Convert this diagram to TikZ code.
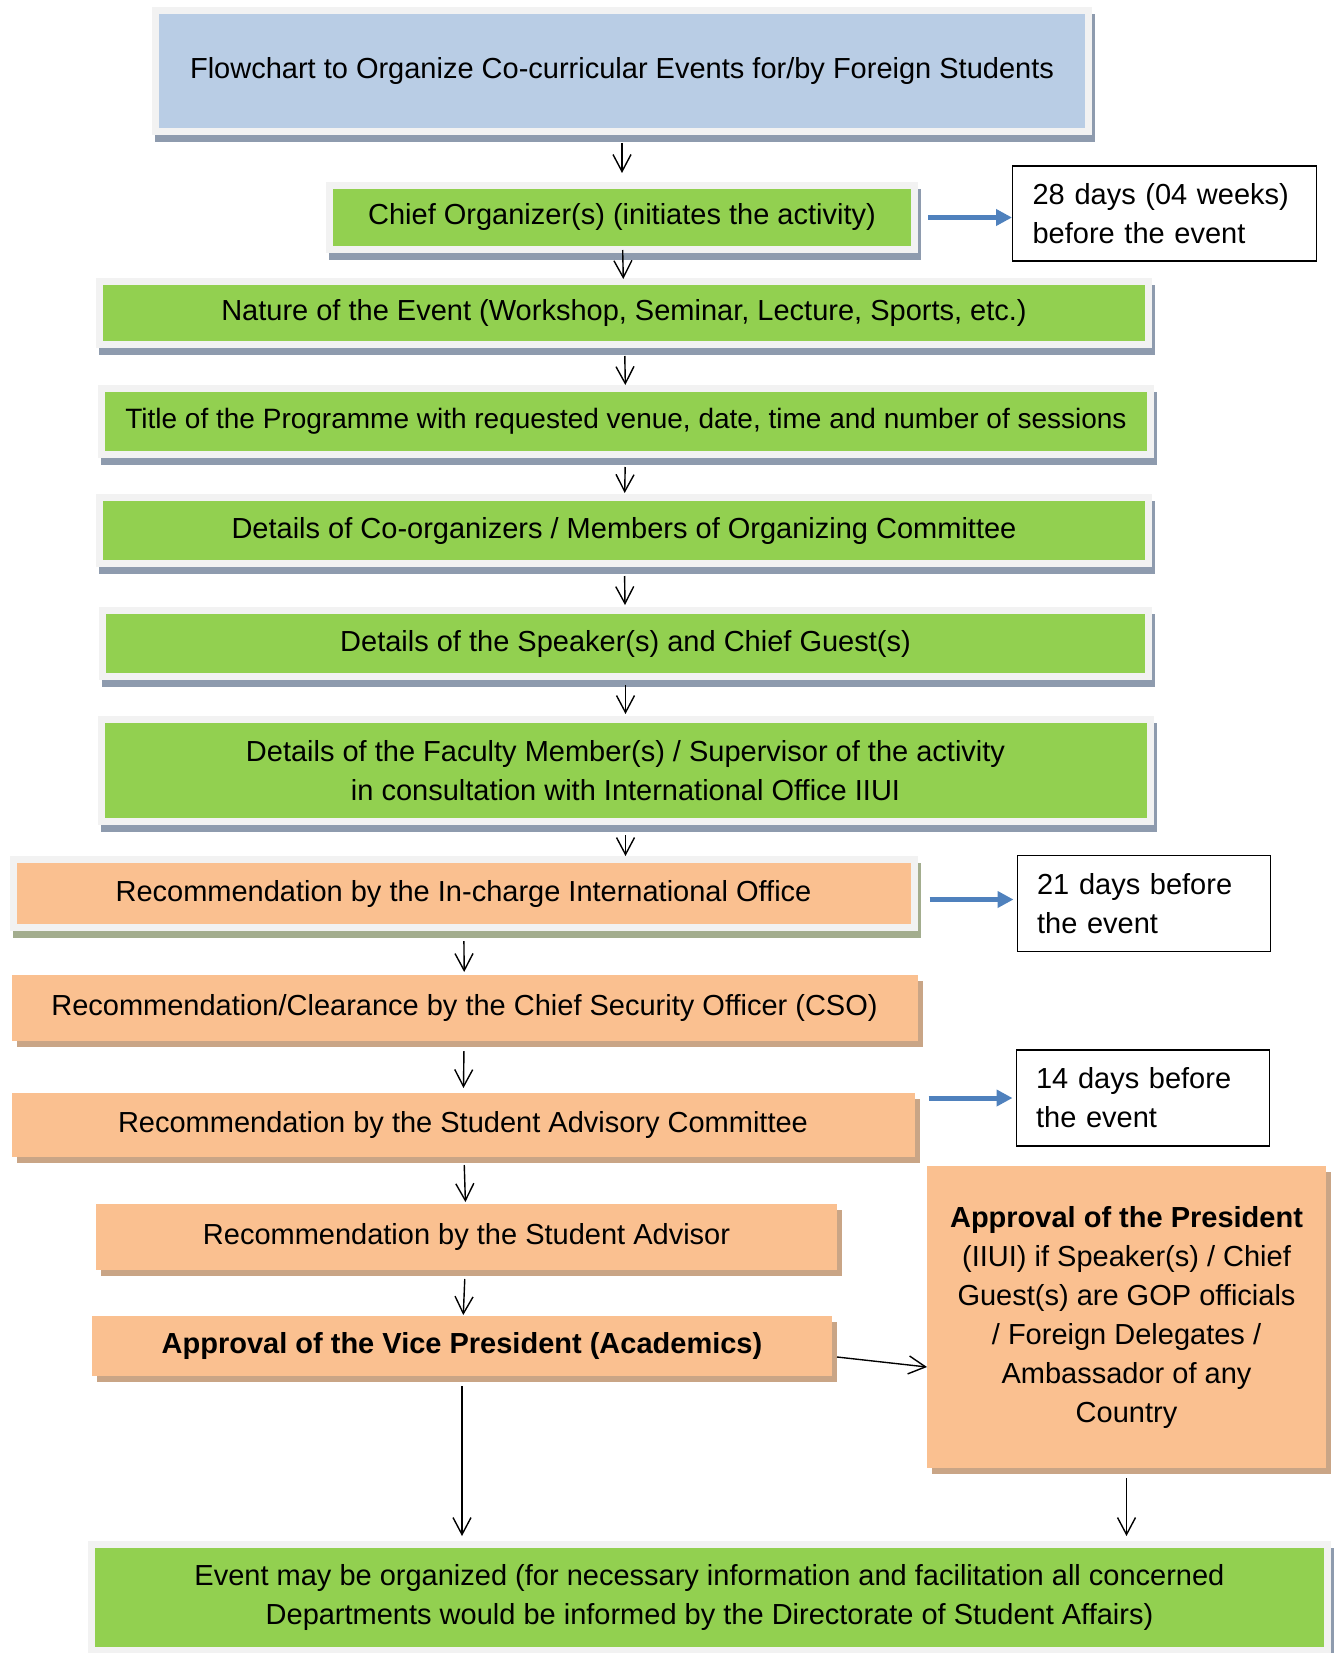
\documentclass[tikz,border=0pt]{standalone}
\usepackage{fontspec}
\setmainfont{Liberation Sans}
\usepackage{tikz}
\usetikzlibrary{arrows.meta,positioning}

\definecolor{titleblue}{HTML}{B9CDE5}
\definecolor{boxgreen}{HTML}{92D050}
\definecolor{boxorange}{HTML}{FAC090}
\definecolor{framegray}{HTML}{F2F2F2}
\definecolor{shadeblue}{HTML}{8E9BAE}
\definecolor{shadeolive}{HTML}{A3AD8E}
\definecolor{shadetan}{HTML}{C9A586}
\definecolor{arrowblue}{HTML}{4F81BD}

\begin{document}
\begin{tikzpicture}[x=1pt,y=-1pt,
  font=\fontsize{29}{39}\selectfont,
  stepbox/.style={fill=#1,align=center,inner sep=0pt,outer sep=0pt},
  framed/.style={preaction={fill=#1,draw=#1,line width=14pt,
      transform canvas={xshift=3pt,yshift=-7pt}},
    preaction={fill=framegray,draw=framegray,line width=14pt}},
  plainshadow/.style={preaction={fill=#1,
      transform canvas={xshift=5pt,yshift=-6pt}}},
  note/.style={draw,line width=1.2pt,align=left,inner xsep=20pt,inner ysep=0pt},
  arr/.style={-{Straight Barb[length=17pt,width=18pt]},line width=1.4pt},
  bluearr/.style={-{Triangle[length=16pt,width=16pt]},line width=5pt,draw=arrowblue}
]
  \useasboundingbox (0,0) rectangle (1339,1653);
  \node[stepbox=titleblue,framed=shadeblue,minimum width=926pt,minimum height=114pt] (title) at (622,71)
    {Flowchart to Organize Co-curricular Events for/by Foreign Students};
  \node[stepbox=boxgreen,framed=shadeblue,minimum width=578pt,minimum height=57pt,below=61pt of title] (chief)
    {Chief Organizer(s) (initiates the activity)};
  \node[note,text width=264pt,minimum height=95pt,right=101pt of chief,yshift=4pt] (days28)
    {28 days (04 weeks)\\before the event};
  \node[stepbox=boxgreen,framed=shadeblue,minimum width=1042pt,minimum height=56pt,below=39pt of chief,xshift=2pt] (nature)
    {Nature of the Event (Workshop, Seminar, Lecture, Sports, etc.)};
  \node[stepbox=boxgreen,framed=shadeblue,minimum width=1042pt,minimum height=59pt,below=51pt of nature,xshift=2pt,
    font=\fontsize{28}{39}\selectfont] (programme)
    {Title of the Programme with requested venue, date, time and number of sessions};
  \node[stepbox=boxgreen,framed=shadeblue,minimum width=1042pt,minimum height=59pt,below=50pt of programme,xshift=-2pt] (coorg)
    {Details of Co-organizers / Members of Organizing Committee};
  \node[stepbox=boxgreen,framed=shadeblue,minimum width=1039pt,minimum height=59pt,below=54pt of coorg,xshift=1.5pt] (speaker)
    {Details of the Speaker(s) and Chief Guest(s)};
  \node[stepbox=boxgreen,framed=shadeblue,minimum width=1042pt,minimum height=95pt,below=50pt of speaker] (faculty)
    {Details of the Faculty Member(s) / Supervisor of the activity\\in consultation with International Office IIUI};
  \node[stepbox=boxorange,framed=shadeolive,minimum width=894pt,minimum height=61pt,below=45pt of faculty,xshift=-162pt] (incharge)
    {Recommendation by the In-charge International Office};
  \node[note,text width=213pt,minimum height=96pt,right=106pt of incharge,yshift=-10pt] (days21)
    {21 days before\\the event};
  \node[stepbox=boxorange,plainshadow=shadetan,minimum width=906pt,minimum height=66pt,below=51pt of incharge,xshift=1pt] (cso)
    {Recommendation/Clearance by the Chief Security Officer (CSO)};
  \node[stepbox=boxorange,plainshadow=shadetan,minimum width=903pt,minimum height=64pt,below=52pt of cso,xshift=-1.5pt] (sac)
    {Recommendation by the Student Advisory Committee};
  \node[note,text width=213pt,minimum height=96pt,right=101pt of sac,yshift=27pt] (days14)
    {14 days before\\the event};
  \node[stepbox=boxorange,plainshadow=shadetan,minimum width=741pt,minimum height=66pt,below=47pt of sac,xshift=3.5pt] (advisor)
    {Recommendation by the Student Advisor};
  \node[stepbox=boxorange,plainshadow=shadetan,minimum width=740pt,minimum height=60pt,below=46pt of advisor,xshift=-4.5pt] (vp)
    {\textbf{Approval of the Vice President (Academics)}};
  \node[stepbox=boxorange,plainshadow=shadetan,minimum width=399pt,minimum height=302pt,right=95pt of vp,yshift=29pt] (president)
    {\textbf{Approval of the President}\\(IIUI) if Speaker(s) / Chief\\Guest(s) are GOP officials\\/ Foreign Delegates /\\Ambassador of any\\Country};
  \node[stepbox=boxgreen,framed=shadeblue,minimum width=1229pt,minimum height=99pt,below=172pt of vp,xshift=247.5pt] (event)
    {Event may be organized (for necessary information and facilitation all concerned\\Departments would be informed by the Directorate of Student Affairs)};
  \draw[arr,shorten <=15pt,shorten >=16pt] (title) -- (chief);
  \draw[arr,shorten <=4pt,shorten >=6pt] (chief) -- (nature);
  \draw[arr,shorten <=15pt,shorten >=7pt] (nature) -- (programme);
  \draw[arr,shorten <=16pt,shorten >=8pt] (programme) -- (coorg);
  \draw[arr,shorten <=16pt,shorten >=9pt] (coorg) -- (speaker);
  \draw[arr,shorten <=12pt,shorten >=9pt] (speaker) -- (faculty);
  \draw[arr,shorten <=17pt,shorten >=7pt] (faculty) -- (faculty |- incharge.north);
  \draw[arr,shorten <=17pt,shorten >=3pt] (incharge) -- (cso);
  \draw[arr,shorten <=10pt,shorten >=5pt] (cso) -- (sac);
  \draw[arr,shorten <=8pt,shorten >=2pt] (sac) -- (advisor);
  \draw[arr,shorten <=9pt,shorten >=1pt] (advisor) -- (vp);
  \draw[arr,shorten <=10pt,shorten >=12pt] (vp) -- (vp |- event.north);
  \draw[arr,shorten <=10pt,shorten >=12pt] (president) -- (president |- event.north);
  \draw[arr] ([xshift=5pt,yshift=-11pt]vp.east) -- ([yshift=-50pt]president.west);
  \draw[bluearr,shorten <=17pt] (chief) -- (chief -| days28.west);
  \draw[bluearr,shorten <=19pt,shorten >=3pt] ([yshift=-6pt]incharge.east) -- ([yshift=-6pt]incharge.east -| days21.west);
  \draw[bluearr,shorten <=14pt,shorten >=3pt] (days14.west -| sac.east) -- (days14.west);
\end{tikzpicture}
\end{document}
